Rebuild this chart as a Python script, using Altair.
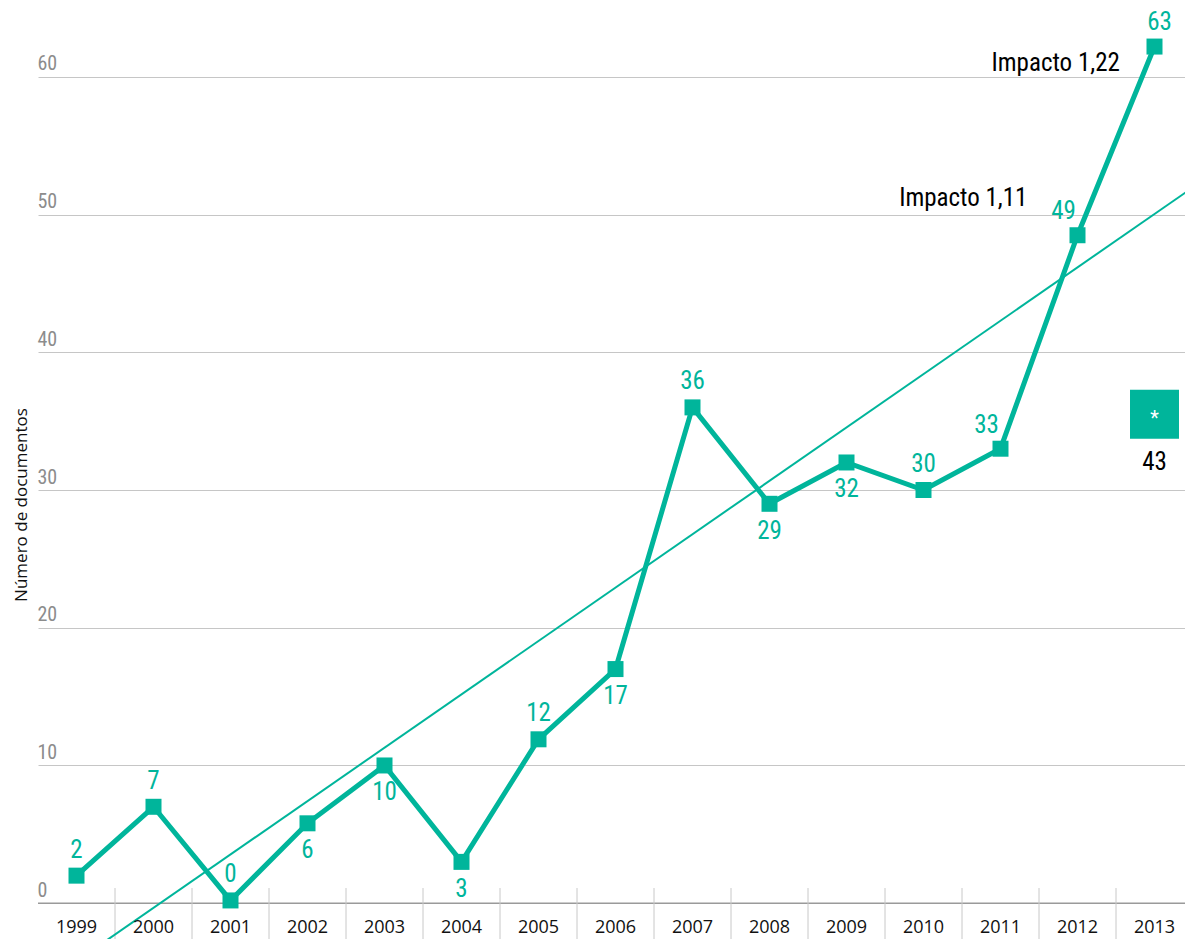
import altair as alt
import pandas as pd

# ---- data ----
years = list(range(1999, 2014))
values = [2, 7, 0.2, 5.8, 10, 3, 11.9, 17, 36, 29, 32, 30, 33, 48.5, 62.2]
labels = ["2", "7", "0", "6", "10", "3", "12", "17", "36", "29", "32", "30", "33", "49", "63"]
placement = ["above", "above", "above", "below", "below", "below", "above", "below",
             "above", "below", "below", "above", "aboveleft", "aboveleft", "aboveright"]

trend_x = [1998.5, 2013.5]
trend_y = [-6.15, 51.98]

separators = [y + 0.5 for y in range(1999, 2013)]

annot_text = ["Impacto 1,11", "Impacto 1,22"]
annot_x = [2011.35, 2012.55]
annot_y = [51.2, 61.0]

extra_year = [2013]
extra_box_y = [35.5]
extra_value_y = [32.0]
extra_label = ["43"]

y_ticks = [0, 10, 20, 30, 40, 50, 60]

TEAL = "#00B59B"
NARROW = "Liberation Sans Narrow, Roboto Condensed, DejaVu Sans Condensed, Roboto, sans-serif"
HUMAN = "Open Sans, Noto Sans, sans-serif"

PLOT_W = 1147          # 77 px per year; the last few px of 2013 run past the window in the original
X_MAX = 1998.5 + PLOT_W / 77.0

df = pd.DataFrame({"year": years, "value": values, "label": labels, "place": placement})
trend = pd.DataFrame({"year": trend_x, "value": trend_y})
seps = pd.DataFrame({"year": separators, "y1": [1.1] * len(separators), "y2": [-2.6] * len(separators)})
years_df = pd.DataFrame({"year": years, "label": [str(y) for y in years], "ly": [-1.8] * len(years)})
annot = pd.DataFrame({"year": annot_x, "value": annot_y, "text": annot_text})
extra = pd.DataFrame({"year": extra_year, "box": extra_box_y, "vy": extra_value_y,
                      "label": extra_label, "star": ["*"]})
zero = pd.DataFrame({"value": [0]})

xs = alt.Scale(domain=[1998.5, X_MAX], nice=False, zero=False)
ys = alt.Scale(domain=[-2.6, 65], nice=False, zero=False)

X = alt.X("year:Q", scale=xs, axis=None)

base_axis = alt.Chart(df).mark_point(opacity=0).encode(
    x=X,
    y=alt.Y("value:Q", scale=ys,
            axis=alt.Axis(values=y_ticks, grid=True, gridColor="#c6c6c6", gridWidth=1,
                          domain=False, ticks=False, tickSize=0, labelAlign="left",
                          labelBaseline="bottom", labelPadding=1, labelOffset=-3,
                          labelColor="#8c8c8c", labelFont=NARROW, labelFontSize=20,
                          title=None)),
)

zero_line = alt.Chart(zero).mark_rule(color="#9a9a9a", strokeWidth=1.5).encode(
    y=alt.Y("value:Q", scale=ys)
)

sep_rules = alt.Chart(seps).mark_rule(color="#c8c8c8", strokeWidth=1).encode(
    x=X, y=alt.Y("y1:Q", scale=ys), y2="y2:Q"
)

trend_line = alt.Chart(trend).mark_line(color=TEAL, strokeWidth=2, clip=True).encode(
    x=X, y=alt.Y("value:Q", scale=ys)
)

main_line = alt.Chart(df).mark_line(color=TEAL, strokeWidth=5).encode(
    x=X, y=alt.Y("value:Q", scale=ys)
)

points = alt.Chart(df).mark_square(color=TEAL, size=256, opacity=1).encode(
    x=X, y=alt.Y("value:Q", scale=ys)
)

offsets = {"above": (0, -26), "below": (0, 27), "aboveleft": (-14, -24), "aboveright": (5, -25)}
label_layers = []
for p, (ddx, ddy) in offsets.items():
    label_layers.append(
        alt.Chart(df).transform_filter(alt.datum.place == p).mark_text(
            color=TEAL, font=NARROW, fontSize=25, baseline="middle", align="center",
            dx=ddx, dy=ddy
        ).encode(x=X, y=alt.Y("value:Q", scale=ys), text="label:N")
    )

year_labels = alt.Chart(years_df).mark_text(
    color="#111111", font=HUMAN, fontSize=18, baseline="middle", align="center"
).encode(x=X, y=alt.Y("ly:Q", scale=ys), text="label:N")

annots = alt.Chart(annot).mark_text(
    color="#000000", font=NARROW, fontSize=25, baseline="middle", align="right"
).encode(x=X, y=alt.Y("value:Q", scale=ys), text="text:N")

box = alt.Chart(extra).mark_square(color=TEAL, size=2400, opacity=1).encode(
    x=X, y=alt.Y("box:Q", scale=ys)
)
star = alt.Chart(extra).mark_text(
    color="white", font=NARROW, fontSize=20, baseline="middle", align="center", dy=5
).encode(x=X, y=alt.Y("box:Q", scale=ys), text="star:N")
extra_val = alt.Chart(extra).mark_text(
    color="#000000", font=NARROW, fontSize=25, baseline="middle", align="center"
).encode(x=X, y=alt.Y("vy:Q", scale=ys), text="label:N")

ytitle = alt.Chart(pd.DataFrame({"t": ["Número de documentos"]})).mark_text(
    color="#111111", font=HUMAN, fontSize=17, angle=270, baseline="middle", align="center"
).encode(x=alt.value(-16), y=alt.value(497), text="t:N")

chart = alt.layer(
    base_axis, zero_line, sep_rules, trend_line, main_line, points,
    *label_layers, year_labels, annots, box, star, extra_val, ytitle
).properties(
    width=PLOT_W, height=931,
    padding={"left": 30, "top": 0, "right": 0, "bottom": 0},
    autosize=alt.AutoSizeParams(type="none"),
).configure_view(stroke=None)

chart.save("out.html", embed_options={"renderer": "svg", "actions": False})
